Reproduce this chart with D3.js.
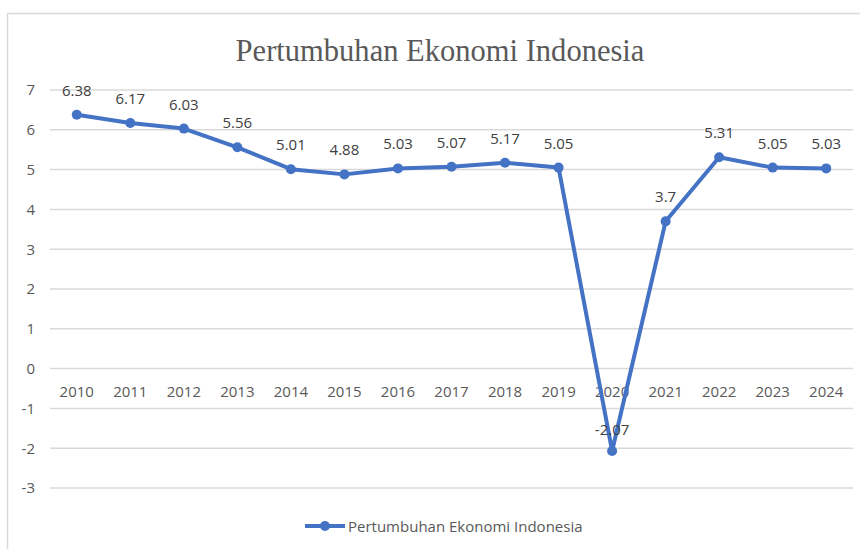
<!DOCTYPE html>
<html>
<head>
<meta charset="utf-8">
<script src="https://cdn.jsdelivr.net/npm/d3@7"></script>
<style>
  body { margin: 0; background: #fff; }
  svg { display: block; }
</style>
</head>
<body>
<svg id="chartSVG" width="860" height="549"></svg>
<script>
const years = ["2010","2011","2012","2013","2014","2015","2016","2017","2018","2019","2020","2021","2022","2023","2024"];
const growth = [6.38, 6.17, 6.03, 5.56, 5.01, 4.88, 5.03, 5.07, 5.17, 5.05, -2.07, 3.7, 5.31, 5.05, 5.03];
const yTicks = [-3, -2, -1, 0, 1, 2, 3, 4, 5, 6, 7];
const seriesName = "Pertumbuhan Ekonomi Indonesia";
const chartTitle = "Pertumbuhan Ekonomi Indonesia";

const blue = "#4472C4";
const svg = d3.select("#chartSVG");

// chart area border (only left and top are visible in the frame)
svg.append("rect")
  .attr("x", 7.5).attr("y", 13.5)
  .attr("width", 900).attr("height", 600)
  .attr("fill", "none")
  .attr("stroke", "#d9d9d9")
  .attr("stroke-width", 1.5);

const xScale = d3.scaleBand()
  .domain(years)
  .range([50, 853]);

const yScale = d3.scaleLinear()
  .domain([-3, 7])
  .range([488, 90]);

// gridlines
svg.append("g").selectAll("line")
  .data(yTicks)
  .join("line")
  .attr("x1", 50).attr("x2", 853)
  .attr("y1", d => yScale(d)).attr("y2", d => yScale(d))
  .attr("stroke", "#d9d9d9")
  .attr("stroke-width", 1.5);

// y axis labels (plain hyphen for negatives, like Excel)
let yAxis = d3.axisLeft(yScale)
  .tickValues(yTicks)
  .tickFormat(d => String(d))
  .tickSize(0).tickPadding(0);
svg.append("g")
  .attr("transform", "translate(35,0)")
  .call(yAxis)
  .call(g => g.select(".domain").remove())
  .call(g => g.selectAll("text")
    .attr("fill", "#595959")
    .style("font-family", "'Open Sans', sans-serif")
    .style("font-size", "15px"));

// x axis labels sit next to the 0 line
let xAxis = d3.axisBottom(xScale).tickSize(0).tickPadding(0);
svg.append("g")
  .attr("transform", `translate(0,${yScale(0) + 17.5})`)
  .call(xAxis)
  .call(g => g.select(".domain").remove())
  .call(g => g.selectAll("text")
    .attr("fill", "#595959")
    .style("font-family", "'Open Sans', sans-serif")
    .style("font-size", "15px"));

const cx = d => xScale(d) + xScale.bandwidth() / 2;

const line = d3.line()
  .x((d, i) => cx(years[i]))
  .y(d => yScale(d));

svg.append("path")
  .datum(growth)
  .attr("d", line)
  .attr("fill", "none")
  .attr("stroke", blue)
  .attr("stroke-width", 4)
  .attr("stroke-linejoin", "round");

svg.append("g").selectAll("circle")
  .data(growth)
  .join("circle")
  .attr("cx", (d, i) => cx(years[i]))
  .attr("cy", d => yScale(d))
  .attr("r", 5)
  .attr("fill", blue);

// data labels
svg.append("g").selectAll("text")
  .data(growth)
  .join("text")
  .attr("x", (d, i) => cx(years[i]))
  .attr("y", d => yScale(d) - (d < 0 ? 16 : 19))
  .attr("text-anchor", "middle")
  .attr("fill", "#404040")
  .style("font-family", "'Open Sans', sans-serif")
  .style("font-size", "15px")
  .text(d => String(d));

// title (slightly condensed serif)
svg.append("text")
  .attr("transform", "translate(440,61) scale(0.955,1)")
  .attr("text-anchor", "middle")
  .attr("fill", "#595959")
  .style("font-family", "'Liberation Serif', serif")
  .style("font-size", "32px")
  .text(chartTitle);

// legend
let legend = svg.append("g");
legend.append("line")
  .attr("x1", 305).attr("x2", 345)
  .attr("y1", 526).attr("y2", 526)
  .attr("stroke", blue).attr("stroke-width", 4);
legend.append("circle")
  .attr("cx", 325).attr("cy", 526).attr("r", 5)
  .attr("fill", blue);
legend.append("text")
  .attr("x", 348).attr("y", 531.5)
  .attr("fill", "#595959")
  .style("font-family", "'Open Sans', sans-serif")
  .style("font-size", "15px")
  .text(seriesName);
</script>
</body>
</html>
